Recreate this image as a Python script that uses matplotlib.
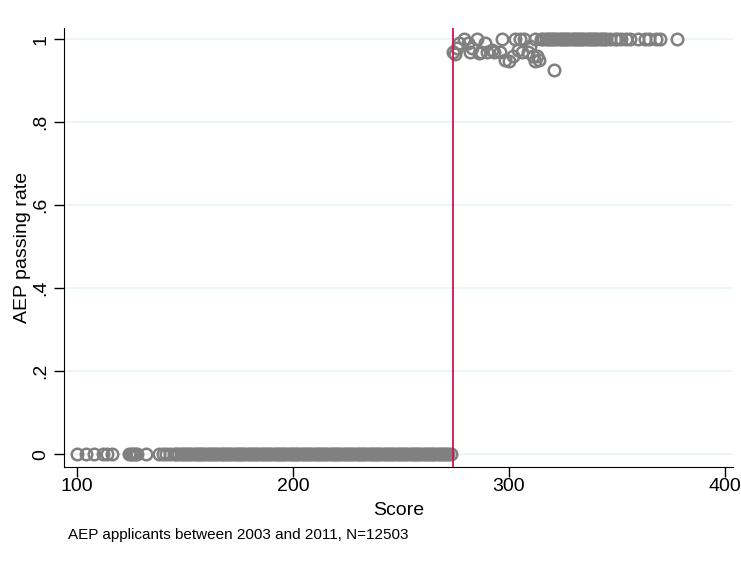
import matplotlib
matplotlib.use("Agg")
import matplotlib.pyplot as plt

plt.rcParams["font.family"] = ["Liberation Sans", "DejaVu Sans"]

# scores below the cutoff (passing rate 0)
low_scores = [100, 104, 108, 112, 114, 116, 124, 125, 126, 127, 128, 132,
              138, 140, 141, 143, 145] + list(range(146, 274))
low_rates = [0] * len(low_scores)

# scores above the cutoff with passing rate
high_scores = [274, 275, 276, 277, 279, 281, 282, 283, 285, 286, 287, 289,
               290, 292, 293, 296, 297, 298, 300, 302, 303, 304, 305, 306,
               307, 309, 310, 311, 312, 312, 313, 314, 315, 321]
high_rates = [0.97, 0.965, 0.978, 0.99, 1.0, 0.99, 0.97, 0.98, 1.0, 0.966,
              0.97, 0.99, 0.97, 0.975, 0.97, 0.97, 1.0, 0.95, 0.947, 0.96,
              1.0, 0.975, 1.0, 0.97, 1.0, 0.97, 0.983, 0.96, 1.0, 0.947,
              0.96, 0.95, 1.0, 0.925]
top_scores = list(range(316, 346)) + [347, 349, 350, 352, 354, 356,
                                      360, 363, 365, 368, 370, 378]
top_rates = [1.0] * len(top_scores)

cutoff = 274

fig = plt.figure(figsize=(7.41, 5.63), dpi=100)
ax = fig.add_axes([0.0864, 0.1705, 0.9026, 0.7795])

ax.set_yticks([0, 0.2, 0.4, 0.6, 0.8, 1])
ax.set_yticklabels(["0", ".2", ".4", ".6", ".8", "1"], rotation=90, va="center")
ax.set_xticks([100, 200, 300, 400])
ax.grid(axis="y", color="#eaf2f3", linewidth=1.1)
ax.set_axisbelow(True)

mk = dict(marker="o", linestyle="none", markersize=8.3, markerfacecolor="none",
          markeredgecolor="#808080", markeredgewidth=1.8)
ax.plot(low_scores, low_rates, **mk)
ax.plot(high_scores, high_rates, **mk)
ax.plot(top_scores, top_rates, **mk)
ax.axvline(cutoff, color="#d2154b", linewidth=1.3)

ax.set_xlim(94, 403.7)
ax.set_ylim(-0.031, 1.027)
for s in ["top", "right"]:
    ax.spines[s].set_visible(False)
ax.tick_params(labelsize=14, length=7, width=1)
ax.tick_params(axis="x", pad=1)
ax.set_xlabel("Score", fontsize=14, labelpad=5)
ax.set_ylabel("AEP passing rate", fontsize=14, labelpad=1)

fig.text(0.092, 1 - 535 / 563, "AEP applicants between 2003 and 2011, N=12503",
         fontsize=11, va="center")

fig.savefig("out.png", dpi=100)
